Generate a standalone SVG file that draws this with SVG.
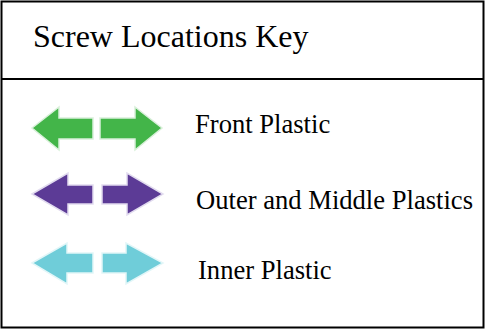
<svg xmlns="http://www.w3.org/2000/svg" width="485" height="329" viewBox="0 0 485 329">
<style>
.t{font-family:"Liberation Serif","Times New Roman",serif;fill:#000}
.frame{fill:none;stroke:#000;stroke-width:2}
.g{fill:#43b549;stroke:#d9f0da;stroke-width:1.5}
.p{fill:#5c3b96;stroke:#e2dcef;stroke-width:1.5}
.c{fill:#6fcdd9;stroke:#e2f6f8;stroke-width:1.5}
</style>
<rect width="485" height="329" fill="#fff"/>
<g id="frame">
<rect class="frame" x="1.5" y="1.5" width="482" height="326"/>
<line class="frame" x1="1.5" y1="79" x2="483.5" y2="79"/>
</g>
<g id="title"><text class="t" x="33" y="47" font-size="32">Screw Locations Key</text></g>
<g id="front">
<polygon class="g" points="32,128 59,107 59,118 93,118 93,139 59,139 59,150"/>
<polygon class="g" points="100,118 135,118 135,107 162,128 135,150 135,139 100,139"/>
<text class="t" x="195" y="133" font-size="26.6">Front Plastic</text>
</g>
<g id="outer">
<polygon class="p" points="32,194 68,173 68,185 93,185 93,204 68,204 68,215"/>
<polygon class="p" points="102,185 127,185 127,173 163,194 127,215 127,204 102,204"/>
<text class="t" x="196" y="209" font-size="26.6">Outer and Middle Plastics</text>
</g>
<g id="inner">
<polygon class="c" points="32,263 67,243 67,253 93,253 93,273 67,273 67,284"/>
<polygon class="c" points="102,253 126,253 126,243 163,263 126,284 126,273 102,273"/>
<text class="t" x="198" y="279" font-size="26.6">Inner Plastic</text>
</g>
<g id="connectors"/>
</svg>
